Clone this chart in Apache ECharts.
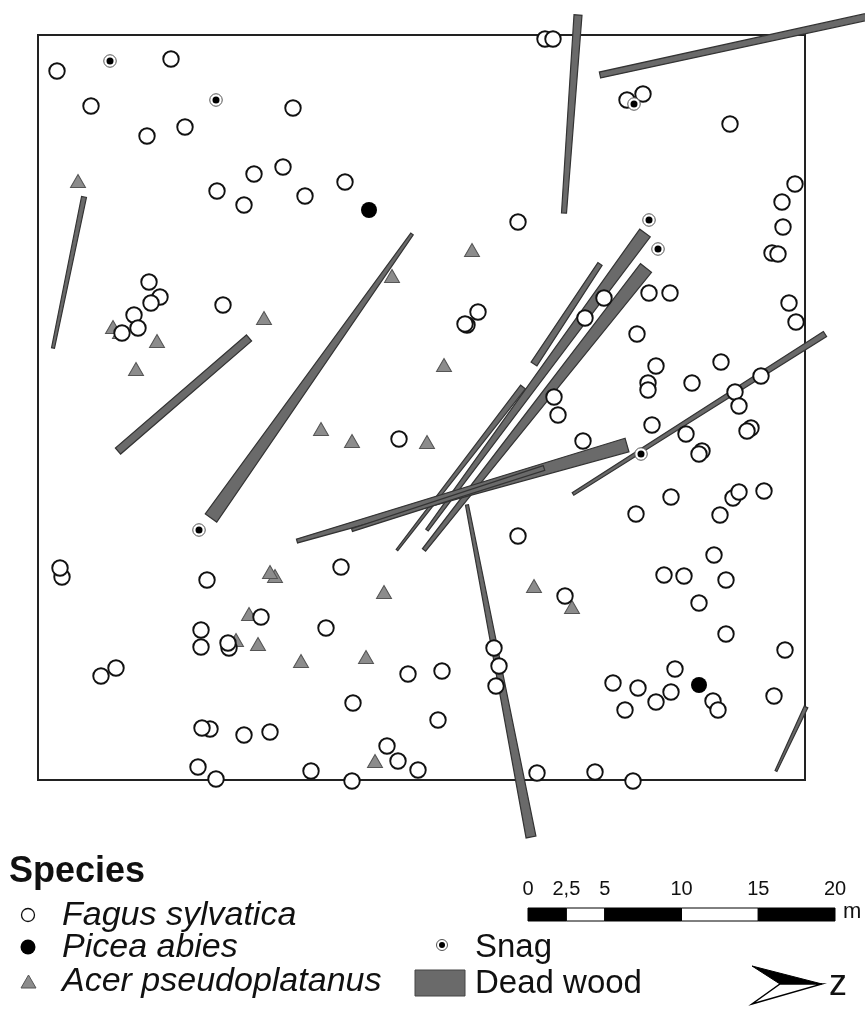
<!DOCTYPE html>
<html><head><meta charset="utf-8">
<script src="https://cdn.jsdelivr.net/npm/echarts@6/dist/echarts.min.js"></script>
<style>html,body{margin:0;padding:0;background:#fff}#c{width:865px;height:1009px}</style>
</head><body><div id="c"></div>
<script>
// Stem positions in plot units
const fagus = [[57,71],[171,59],[91,106],[147,136],[185,127],[293,108],[217,191],[254,174],[283,167],[244,205],[305,196],[345,182],
[545,39],[553,39],[627,100],[643,94],[730,124],[795,184],[782,202],[783,227],[772,253],[778,254],[789,303],[796,322],[518,222],
[149,282],[160,297],[151,303],[134,315],[138,328],[122,333],[223,305],[467,325],[465,324],[478,312],
[649,293],[670,293],[604,298],[585,318],[637,334],[656,366],[648,383],[648,390],[692,383],[721,362],[761,376],[735,392],[739,406],[751,428],[747,431],[686,434],[652,425],[702,451],[699,454],[554,397],[558,415],[583,441],[399,439],
[671,497],[636,514],[733,498],[739,492],[764,491],[720,515],[518,536],[714,555],[726,580],[664,575],[684,576],[699,603],[726,634],[565,596],[785,650],
[62,577],[60,568],[207,580],[341,567],[261,617],[201,630],[201,647],[229,648],[228,643],[326,628],[116,668],[101,676],
[494,648],[499,666],[496,686],[442,671],[408,674],[353,703],[438,720],[613,683],[638,688],[675,669],[671,692],[656,702],[625,710],[713,701],[718,710],[774,696],
[210,729],[202,728],[244,735],[270,732],[198,767],[216,779],[311,771],[352,781],[387,746],[398,761],[418,770],[537,773],[595,772],[633,781]];
const picea = [[369,210],[699,685]];
const acer = [[78,181],[113,327],[120,332],[157,341],[136,369],[264,318],[392,276],[472,250],[444,365],[321,429],[352,441],[427,442],[275,576],[270,572],[249,614],[236,640],[258,644],[301,661],[366,657],[384,592],[534,586],[572,607],[375,761]];
const snags = [[110,61],[216,100],[649,220],[658,249],[634,104],[641,454],[199,530]];
// Dead wood: start x, start y, end x, end y, start width, end width
const deadWood = [[578,15,564,213,8,5],[600,75,880,14,6,7],[84,197,53,348,5,3],[249,338,118,451,8,8],[412,234,211,518,3,14],
[645,233,427,530,13,3],[646,268,424,550,14,4],[600,264,534,364,5,7],[523,387,397,550,6,2],[627,445,297,541,14,4],[544,468,352,530,5,3],
[825,334,573,494,6,3],[467,505,531,837,3,10],[806,707,776,771,4,2]];
// Legend and scale text
const legendTitle = 'Species';
const speciesNames = ['Fagus sylvatica','Picea abies','Acer pseudoplatanus'];
const otherNames = ['Snag','Dead wood'];
const scaleTicks = [0,2.5,5,10,15,20];
const scaleLabels = ['0','2,5','5','10','15','20'];

const FONT='"Liberation Sans",Arial,sans-serif';
const chart=echarts.init(document.getElementById('c'),null,{renderer:'canvas'});
const axisOff={axisLine:{show:false},axisTick:{show:false},axisLabel:{show:false},splitLine:{show:false}};
const txt=(x,y,text,size,extra)=>({type:'text',x,y,z:10,style:Object.assign({text,fill:'#111',font:size+'px '+FONT,textVerticalAlign:'middle'},extra||{})});

// scale bar
const sx=m=>528+m*(835-528)/20;
const bar=[];
for(let i=0;i<scaleTicks.length-1;i++){
  bar.push({type:'rect',z:10,shape:{x:sx(scaleTicks[i]),y:908,width:sx(scaleTicks[i+1])-sx(scaleTicks[i]),height:13},
    style:{fill:(i===1||i===3)?'#fff':'#000',stroke:'#000',lineWidth:1}});
}
scaleTicks.forEach((m,i)=>bar.push(txt(sx(m),889,scaleLabels[i],20,{textAlign:'center'})));

chart.setOption({
  animation:false,
  backgroundColor:'#fff',
  grid:{left:38,top:35,width:767,height:745,show:true,borderColor:'#222',borderWidth:2,backgroundColor:'transparent'},
  xAxis:Object.assign({type:'value',min:38,max:805},axisOff),
  yAxis:Object.assign({type:'value',min:35,max:780,inverse:true},axisOff),
  series:[
    {type:'custom',clip:false,z:2,coordinateSystem:'cartesian2d',data:deadWood,
     renderItem(p,api){
       const a=api.coord([api.value(0),api.value(1)]),b=api.coord([api.value(2),api.value(3)]);
       const w1=api.size([api.value(4),0])[0]/2,w2=api.size([api.value(5),0])[0]/2;
       const dx=b[0]-a[0],dy=b[1]-a[1],l=Math.hypot(dx,dy),nx=-dy/l,ny=dx/l;
       return {type:'polygon',shape:{points:[[a[0]+nx*w1,a[1]+ny*w1],[b[0]+nx*w2,b[1]+ny*w2],[b[0]-nx*w2,b[1]-ny*w2],[a[0]-nx*w1,a[1]-ny*w1]]},
         style:{fill:'#6a6a6a',stroke:'#333',lineWidth:1.2}};
     }},
    {name:'Acer pseudoplatanus',type:'scatter',clip:false,z:3,data:acer,symbol:'triangle',symbolSize:[15,13],
     itemStyle:{color:'#8c8c8c',borderColor:'#555',borderWidth:1,opacity:1}},
    {name:'Fagus sylvatica',type:'scatter',clip:false,z:4,data:fagus,symbol:'circle',symbolSize:15.5,
     itemStyle:{color:'#fff',borderColor:'#111',borderWidth:1.9,opacity:1}},
    {name:'Picea abies',type:'scatter',clip:false,z:5,data:picea,symbol:'circle',symbolSize:16,
     itemStyle:{color:'#000',opacity:1}},
    {name:'Snag',type:'scatter',clip:false,z:5,data:snags,symbol:'circle',symbolSize:12.5,
     itemStyle:{color:'#fff',borderColor:'#555',borderWidth:1,opacity:1}},
    {name:'Snag core',type:'scatter',clip:false,z:6,data:snags,symbol:'circle',symbolSize:7,
     itemStyle:{color:'#000',opacity:1}}
  ],
  graphic:{elements:[
    txt(9,872,legendTitle,36,{font:'bold 36px '+FONT}),
    {type:'circle',z:10,shape:{cx:28,cy:915,r:6.5},style:{fill:'#fff',stroke:'#111',lineWidth:1.3}},
    {type:'circle',z:10,shape:{cx:28,cy:947,r:7.5},style:{fill:'#000'}},
    {type:'polygon',z:10,shape:{points:[[21,988],[36,988],[28.5,975]]},style:{fill:'#8c8c8c',stroke:'#555',lineWidth:1}},
    txt(62,916,speciesNames[0],34,{font:'italic 34px '+FONT}),
    txt(62,948,speciesNames[1],34,{font:'italic 34px '+FONT}),
    txt(62,982,speciesNames[2],34,{font:'italic 34px '+FONT}),
    {type:'circle',z:10,shape:{cx:442,cy:945,r:5.5},style:{fill:'#fff',stroke:'#555',lineWidth:1}},
    {type:'circle',z:10,shape:{cx:442,cy:945,r:3},style:{fill:'#000'}},
    txt(475,948,otherNames[0],33),
    {type:'rect',z:10,shape:{x:415,y:970,width:50,height:26},style:{fill:'#6a6a6a',stroke:'#444',lineWidth:1}},
    txt(475,984,otherNames[1],33),
    ...bar,
    txt(843,912,'m',22),
    {type:'polygon',z:10,shape:{points:[[752,966],[822,984],[780,984]]},style:{fill:'#000',stroke:'#000',lineWidth:1}},
    {type:'polygon',z:10,shape:{points:[[752,1004],[822,984],[780,984]]},style:{fill:'#fff',stroke:'#000',lineWidth:1.4}},
    txt(829,985,'z',36)
  ]}
});
</script></body></html>
